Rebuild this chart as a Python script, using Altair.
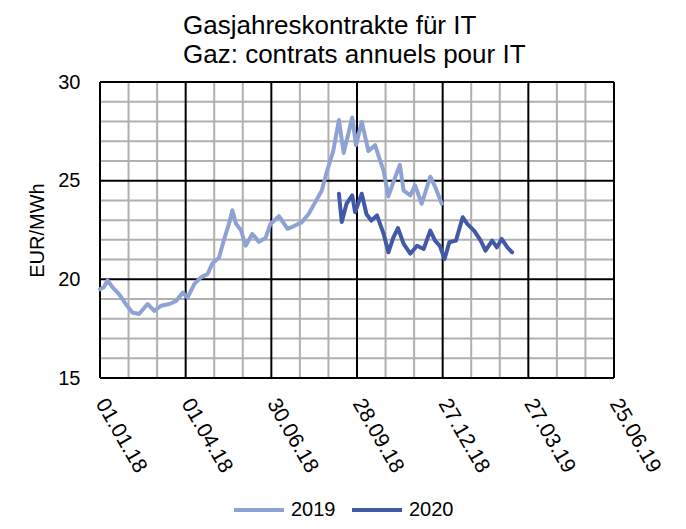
import altair as alt
import pandas as pd

# ---- data ----
dates_2019 = ["2018-01-01","2018-01-05","2018-01-09","2018-01-14","2018-01-21","2018-01-28","2018-02-04",
              "2018-02-11","2018-02-20","2018-02-27","2018-03-06","2018-03-15","2018-03-22","2018-03-29",
              "2018-04-03","2018-04-10","2018-04-17","2018-04-24","2018-04-29","2018-05-06","2018-05-11",
              "2018-05-17","2018-05-20","2018-05-24","2018-05-29","2018-06-03","2018-06-10","2018-06-17",
              "2018-06-24","2018-06-29","2018-07-08","2018-07-17","2018-07-24","2018-08-01","2018-08-08",
              "2018-08-15","2018-08-22","2018-08-27","2018-09-03","2018-09-09","2018-09-14","2018-09-23",
              "2018-09-27","2018-10-03","2018-10-10","2018-10-17","2018-10-21","2018-10-26","2018-10-31",
              "2018-11-05","2018-11-12","2018-11-16","2018-11-23","2018-11-28","2018-12-05","2018-12-14",
              "2018-12-19","2018-12-26"]
values_2019 = [19.5,19.6,19.95,19.6,19.25,18.75,18.32,18.24,18.75,18.4,18.66,18.75,18.9,19.33,19.08,
               19.76,20.1,20.27,20.8,21.1,21.96,22.9,23.5,22.8,22.5,21.7,22.3,21.9,22.1,22.8,23.2,22.56,
               22.7,22.9,23.3,23.9,24.5,25.4,26.5,28.07,26.4,28.2,26.8,27.98,26.5,26.8,26.2,25.5,24.2,
               24.9,25.8,24.5,24.25,24.76,23.83,25.2,24.7,23.83]

dates_2020 = ["2018-09-09","2018-09-12","2018-09-17","2018-09-23","2018-09-26","2018-10-03","2018-10-08",
              "2018-10-13","2018-10-19","2018-10-26","2018-10-31","2018-11-05","2018-11-10","2018-11-16",
              "2018-11-23","2018-11-30","2018-12-07","2018-12-14","2018-12-19","2018-12-24","2018-12-29",
              "2019-01-03","2019-01-10","2019-01-17","2019-01-22","2019-01-29","2019-02-05","2019-02-10",
              "2019-02-17","2019-02-22","2019-02-27","2019-03-05","2019-03-10"]
values_2020 = [24.34,22.9,23.83,24.25,23.4,24.34,23.3,22.98,23.24,22.3,21.37,22.1,22.6,21.8,21.3,21.7,
               21.54,22.47,21.96,21.7,21.03,21.88,21.96,23.15,22.8,22.47,21.96,21.45,21.96,21.62,22.05,
               21.62,21.37]

series_names = ["2019", "2020"]
series_colors = ["#8fa2d4", "#4259a8"]

x_major_ticks = ["2018-01-01","2018-04-01","2018-06-30","2018-09-28","2018-12-27","2019-03-27","2019-06-25"]
x_minor_ticks = ["2018-01-31","2018-03-02","2018-05-01","2018-05-31","2018-07-30","2018-08-29",
                 "2018-10-28","2018-11-27","2019-01-26","2019-02-25","2019-04-26","2019-05-26"]
y_major_ticks = [15, 20, 25, 30]
y_minor_ticks = [16, 17, 18, 19, 21, 22, 23, 24, 26, 27, 28, 29]

title_lines = ["Gasjahreskontrakte für IT", "Gaz: contrats annuels pour IT"]
y_title = "EUR/MWh"

FONT = "Liberation Sans"

df = pd.concat([
    pd.DataFrame({"date": dates_2019, "value": values_2019, "series": series_names[0]}),
    pd.DataFrame({"date": dates_2020, "value": values_2020, "series": series_names[1]}),
])


def dt(s):
    y, m, d = (int(p) for p in s.split("-"))
    return alt.DateTime(year=y, month=m, date=d, utc=True)


xscale = alt.Scale(type="utc", domain=[dt(x_major_ticks[0]), dt(x_major_ticks[-1])], nice=False)
yscale = alt.Scale(domain=[15, 30], nice=False, zero=False)

lines = alt.Chart(df).mark_line(strokeWidth=4, strokeJoin="round", strokeCap="round").encode(
    x=alt.X("date:T", scale=xscale,
            axis=alt.Axis(values=[dt(s) for s in x_major_ticks], format="%d.%m.%y", labelAngle=60,
                          labelAlign="left", labelBaseline="middle", labelPadding=22, ticks=False,
                          domain=False, grid=False, title=None, labelFontSize=21, labelColor="black",
                          labelFont=FONT, labelOverlap=False, labelFlush=False)),
    y=alt.Y("value:Q", scale=yscale,
            axis=alt.Axis(values=y_major_ticks, ticks=False, domain=False, grid=False, labelPadding=20,
                          labelFontSize=20, labelColor="black", labelFont=FONT, title=y_title,
                          titleFontSize=20, titleFontWeight="normal", titleFont=FONT, titleColor="black",
                          titlePadding=10)),
    color=alt.Color("series:N", scale=alt.Scale(domain=series_names, range=series_colors),
                    legend=alt.Legend(orient="none", legendX=132, legendY=401, direction="horizontal",
                                      title=None, symbolType="stroke", symbolStrokeWidth=4, symbolSize=2500,
                                      labelFontSize=20, labelFont=FONT, labelColor="black", labelOffset=5,
                                      columnPadding=8, padding=0)),
)

h_minor = alt.Chart(pd.DataFrame({"v": y_minor_ticks})).mark_rule(color="#b0b0b0", strokeWidth=2).encode(
    y=alt.Y("v:Q", scale=yscale, axis=None))
v_minor = alt.Chart(pd.DataFrame({"d": x_minor_ticks})).mark_rule(color="#b0b0b0", strokeWidth=2).encode(
    x=alt.X("d:T", scale=xscale, axis=None))
h_major = alt.Chart(pd.DataFrame({"v": y_major_ticks})).mark_rule(color="black", strokeWidth=2).encode(
    y=alt.Y("v:Q", scale=yscale, axis=None))
v_major = alt.Chart(pd.DataFrame({"d": x_major_ticks})).mark_rule(color="black", strokeWidth=2).encode(
    x=alt.X("d:T", scale=xscale, axis=None))

chart = alt.layer(h_minor, v_minor, h_major, v_major, lines).resolve_axis(
    x="independent", y="independent"
).properties(
    width=514, height=296,
    autosize=alt.AutoSizeParams(type="none"),
    padding={"left": 92, "top": 74, "right": 64, "bottom": 143},
    title=alt.TitleParams(text=title_lines, anchor="start", frame="group", dx=83, fontSize=26,
                          fontWeight="normal", font=FONT, color="black", lineHeight=29, offset=4),
).configure_view(stroke=None)

chart.save("out.html", embed_options={"renderer": "svg", "actions": False})
